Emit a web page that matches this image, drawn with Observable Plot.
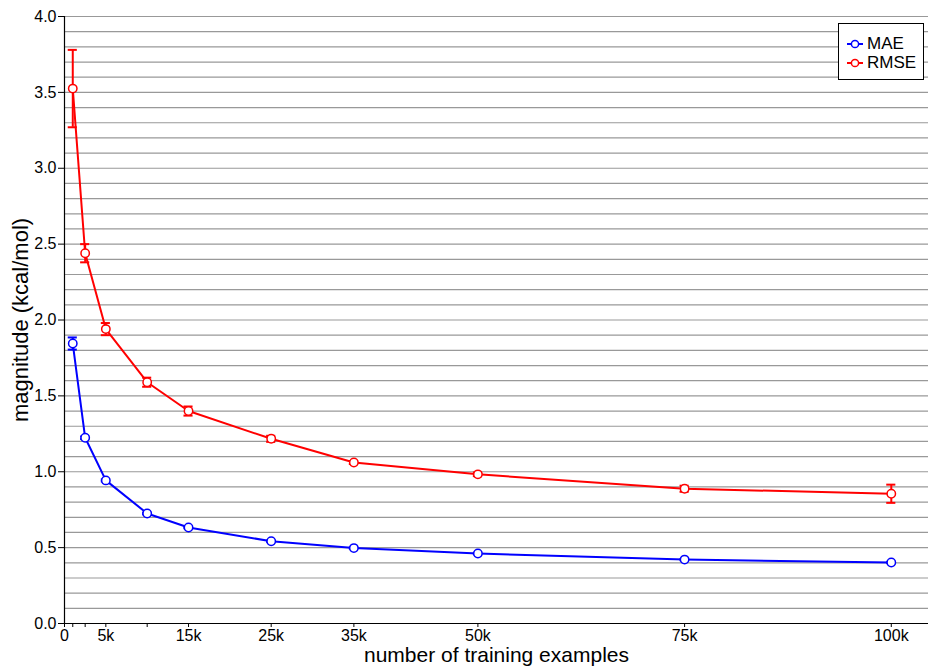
<!DOCTYPE html>
<html>
<head>
<meta charset="utf-8">
<script src="https://cdn.jsdelivr.net/npm/d3@7"></script>
<script src="https://cdn.jsdelivr.net/npm/@observablehq/plot@0.6"></script>
<style>
  html, body { margin: 0; padding: 0; background: white; }
  #wrap { position: relative; width: 928px; height: 666px; font-family: "Liberation Sans", Arial, Helvetica, sans-serif; }
  #legend { position: absolute; left: 838px; top: 23px; width: 84px; height: 55px; border: 1px solid black; background: white; }
  .item { position: absolute; left: 7px; height: 18px; display: flex; align-items: center; font-size: 17px; }
  .item svg { margin-right: 3px; }
</style>
</head>
<body>
<div id="wrap"></div>
<script>
// training set sizes
const sizes = [1000, 2500, 5000, 10000, 15000, 25000, 35000, 50000, 75000, 100000];
// MAE values and error half-widths
const maeValues = [1.845, 1.224, 0.943, 0.725, 0.633, 0.542, 0.497, 0.461, 0.421, 0.402];
const maeErrors = [0.04, 0.008, 0.006, 0.005, 0.005, 0.004, 0.004, 0.004, 0.004, 0.004];
// RMSE values and error half-widths
const rmseValues = [3.525, 2.44, 1.94, 1.59, 1.40, 1.217, 1.061, 0.983, 0.888, 0.855];
const rmseErrors = [0.255, 0.06, 0.04, 0.03, 0.03, 0.02, 0.01, 0.012, 0.02, 0.06];
// series
const seriesNames = ["MAE", "RMSE"];
const seriesColors = ["#0000ff", "#ff0000"];
// axis ticks
const xTicks = [0, 1000, 2500, 5000, 10000, 15000, 25000, 35000, 50000, 75000, 100000];
const xTickLabels = {0: "0", 5000: "5k", 15000: "15k", 25000: "25k", 35000: "35k", 50000: "50k", 75000: "75k", 100000: "100k"};
const yTicks = [0, 0.5, 1.0, 1.5, 2.0, 2.5, 3.0, 3.5, 4.0];
const yGrid = d3.range(1, 41).map(i => i / 10);

const rows = [];
sizes.forEach((n, i) => {
  rows.push({series: "MAE", n, v: maeValues[i], e: maeErrors[i]});
  rows.push({series: "RMSE", n, v: rmseValues[i], e: rmseErrors[i]});
});
const colorOf = s => seriesColors[seriesNames.indexOf(s)];
const capHalf = 550;

const chart = Plot.plot({
  width: 928,
  height: 666,
  marginLeft: 64,
  marginRight: 0,
  marginTop: 16,
  marginBottom: 43,
  style: {fontFamily: "'Liberation Sans', Arial, Helvetica, sans-serif", fontSize: "16px", background: "white", color: "black"},
  x: {domain: [0, 104500]},
  y: {domain: [0, 4]},
  marks: [
    Plot.ruleY(yGrid, {stroke: "#999", strokeWidth: 1.2}),
    Plot.axisY({ticks: yTicks, tickFormat: d3.format(".1f"), tickSize: 6, tickPadding: 2, fontSize: 16, label: null}),
    Plot.axisX({ticks: xTicks, tickFormat: d => xTickLabels[d] ?? "", tickSize: 4, tickPadding: 2, fontSize: 16, label: null}),
    Plot.ruleX([0], {stroke: "black", strokeWidth: 1.2}),
    Plot.ruleY([0], {stroke: "black", strokeWidth: 1.2}),
    Plot.ruleX(rows, {x: "n", y1: d => d.v - d.e, y2: d => d.v + d.e, stroke: d => colorOf(d.series), strokeWidth: 2}),
    Plot.ruleY(rows, {y: d => d.v + d.e, x1: d => d.n - capHalf, x2: d => d.n + capHalf, stroke: d => colorOf(d.series), strokeWidth: 2}),
    Plot.ruleY(rows, {y: d => d.v - d.e, x1: d => d.n - capHalf, x2: d => d.n + capHalf, stroke: d => colorOf(d.series), strokeWidth: 2}),
    Plot.line(rows, {x: "n", y: "v", z: "series", stroke: d => colorOf(d.series), strokeWidth: 2}),
    Plot.dot(rows, {x: "n", y: "v", r: 4.2, fill: "white", stroke: d => colorOf(d.series), strokeWidth: 1.5}),
    Plot.text(["magnitude (kcal/mol)"], {frameAnchor: "left", rotate: -90, dx: -37, lineAnchor: "bottom", textAnchor: "middle", fontSize: 22}),
    Plot.text(["number of training examples"], {frameAnchor: "bottom", dy: 38, lineAnchor: "bottom", textAnchor: "middle", fontSize: 21})
  ]
});
chart.setAttribute("color", "black");
const wrap = document.getElementById("wrap");
wrap.appendChild(chart);

// legend
const legend = document.createElement("div");
legend.id = "legend";
seriesNames.forEach((name, i) => {
  const item = document.createElement("div");
  item.className = "item";
  item.style.top = (11 + i * 18.5) + "px";
  item.innerHTML = `<svg width="18" height="12"><line x1="1" x2="17" y1="6" y2="6" stroke="${seriesColors[i]}" stroke-width="2"/><circle cx="9" cy="6" r="3.6" fill="white" stroke="${seriesColors[i]}" stroke-width="1.5"/></svg><span>${name}</span>`;
  legend.appendChild(item);
});
wrap.appendChild(legend);
</script>
</body>
</html>
